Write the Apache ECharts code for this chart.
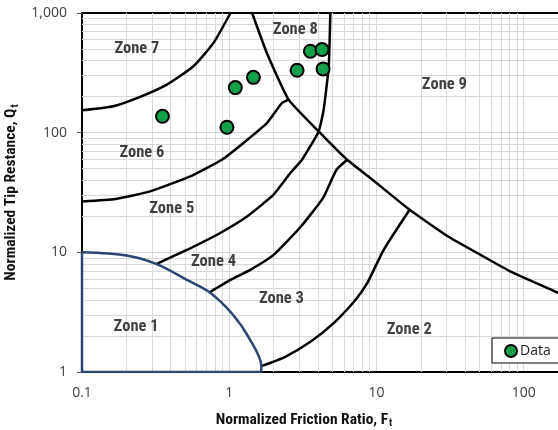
<!DOCTYPE html>
<html><head><meta charset="utf-8">
<script src="https://cdn.jsdelivr.net/npm/echarts@6/dist/echarts.min.js"></script>
<style>html,body{margin:0;padding:0;background:#fff}#c{width:558px;height:430px}</style>
</head><body><div id="c"></div>
<script>
// Tick labels
const xTickLabels = ['0.1', '1', '10', '100'];
const yTickLabels = ['1', '10', '100', '1,000'];
// Minor gridline values
const xGridValues = [0.2,0.3,0.4,0.5,0.6,0.7,0.8,0.9,2,3,4,5,6,7,8,9,20,30,40,50,60,70,80,90];
const yGridValues = [2,3,4,5,6,7,8,9,20,30,40,50,60,70,80,90,200,300,400,500,600,700,800,900];
// Data points
const dataX = [0.352, 0.965, 1.10, 1.46, 2.89, 3.56, 4.27, 4.34];
const dataY = [137, 111, 238, 290, 332, 479, 495, 341];
// Zone labels
const zoneNames = ['Zone 1','Zone 2','Zone 3','Zone 4','Zone 5','Zone 6','Zone 7','Zone 8','Zone 9'];
const zoneX = [0.233, 16.7, 2.26, 0.782, 0.407, 0.255, 0.236, 2.81, 28.9];
const zoneY = [2.39, 2.25, 4.06, 8.38, 23.0, 68.4, 502, 728, 252];
// Zone boundaries
const zone1Edges = [[1.65,1],[0.1,1],[0.1,10]];
const zone1Arc = [[0.1,10],[0.201,9.4],[0.322,7.96],[0.516,5.89],[0.735,4.64],[1.05,3.05],[1.39,1.85],[1.65,1.13],[1.65,1]];
const boundary76 = [[0.1,153.7],[0.163,166],[0.248,199],[0.377,252],[0.571,359],[0.782,563],[1.02,1000]];
const boundary65 = [[0.1,26.6],[0.169,27.9],[0.29,32.3],[0.543,43.1],[0.891,59.4],[1.25,82],[1.80,120],[2.28,177],[2.53,189]];
const boundaryDiagonal = [[1.43,1000],[1.80,464],[2.53,189],[4.05,102.5],[6.32,59.4],[9.09,41.8],[16.8,22.7],[30.9,13.5],[50.9,9.53],[81.6,6.91],[174,4.56],[250,3.73]];
const boundary89and54 = [[4.86,1000],[4.74,359],[4.38,156],[4.05,102.5],[3.12,59.4],[2.6,46],[2.0,30.3],[1.32,19.9],[0.869,14.5],[0.543,10.8],[0.322,8.0]];
const boundary43 = [[0.735,4.64],[1.02,5.89],[1.39,7.14],[2.0,9.53],[3.04,16.2],[4.33,28.4],[5.35,49.0],[6.32,59.4]];
const boundary32 = [[1.65,1.12],[2.40,1.34],[3.56,1.79],[5.12,2.56],[7.19,4.0],[8.65,5.52],[11.2,10.5],[16.8,22.7]];

const chart = echarts.init(document.getElementById('c'), null, {renderer: 'canvas'});
const labelFont = "'Liberation Sans Narrow', 'Roboto Condensed', 'DejaVu Sans Condensed', 'Liberation Sans', sans-serif";
function powLabel(arr, offset) {
  return function (v) {
    const l = Math.log10(v);
    const r = Math.round(l);
    if (Math.abs(l - r) > 1e-6) return '';
    return arr[r + offset] || '';
  };
}
function boundary(name, data, color, width, smooth) {
  return {
    name: name, type: 'line', data: data, symbol: 'none', showSymbol: false, smooth: smooth,
    lineStyle: {color: color, width: width}, z: 3, silent: true, clip: true, animation: false
  };
}
const titleRich = {
  b: {fontFamily: labelFont, fontWeight: 'bold', fontSize: 15.5, color: '#111'},
  s: {fontFamily: labelFont, fontWeight: 'bold', fontSize: 10.5, color: '#111', verticalAlign: 'bottom', padding: [7, 0, 0, 1]}
};
const option = {
  animation: false,
  backgroundColor: '#fff',
  grid: {left: 82, top: 13, right: 0, bottom: 58, containLabel: false, outerBoundsMode: 'none'},
  legend: {
    data: ['Data'], left: 492, top: 338, orient: 'horizontal',
    borderColor: '#000', borderWidth: 1, backgroundColor: '#fff',
    padding: [6, 8, 5, 12], itemWidth: 12, itemHeight: 12, itemGap: 4,
    textStyle: {fontFamily: "'Open Sans', sans-serif", fontSize: 14, color: '#222', padding: [0, 0, 0, -2]}
  },
  xAxis: [{
    type: 'log', min: 0.1, max: 171, position: 'bottom',
    axisLine: {show: true, lineStyle: {color: '#000', width: 2}},
    axisTick: {show: false},
    axisLabel: {formatter: powLabel(xTickLabels, 1), margin: 14, fontSize: 14, color: '#404040', fontFamily: "'Open Sans', sans-serif", showMaxLabel: false},
    splitLine: {show: true, lineStyle: {color: '#d9d9d9', width: 1}},
    name: '{b|Normalized Friction Ratio, F}{s|t}', nameLocation: 'middle', nameGap: 39,
    nameTextStyle: {padding: [0, 32, 0, 0], rich: titleRich}
  }, {
    type: 'log', min: 0.1, max: 171, position: 'top',
    axisLine: {show: true, lineStyle: {color: '#000', width: 2}},
    axisTick: {show: false}, axisLabel: {show: false}, splitLine: {show: false}
  }],
  yAxis: {
    type: 'log', min: 1, max: 1000,
    axisLine: {show: true, lineStyle: {color: '#000', width: 2}},
    axisTick: {show: true, length: 5, lineStyle: {color: '#555'}},
    axisLabel: {formatter: powLabel(yTickLabels, 0), margin: 15, fontSize: 14, color: '#404040', fontFamily: "'Open Sans', sans-serif"},
    splitLine: {show: true, lineStyle: {color: '#d9d9d9', width: 1}},
    name: '{b|Normalized Tip Restance, Q}{s|t}', nameLocation: 'middle', nameGap: 44,
    nameTextStyle: {rich: titleRich}
  },
  series: [
    {
      name: 'grid', type: 'line', data: [[0.1, 1]], symbol: 'none', showSymbol: false, lineStyle: {width: 0}, z: 1, silent: true,
      markLine: {
        silent: true, symbol: ['none', 'none'], label: {show: false}, animation: false, z: 1,
        lineStyle: {color: '#d9d9d9', width: 1, type: 'solid'},
        emphasis: {disabled: true},
        data: xGridValues.map(v => ({xAxis: v})).concat(yGridValues.map(v => ({yAxis: v})))
      }
    },
    boundary('b76', boundary76, '#000', 2.5, 0.2),
    boundary('b65', boundary65, '#000', 2.5, 0.15),
    boundary('diag', boundaryDiagonal, '#000', 2.5, 0.15),
    boundary('b89', boundary89and54, '#000', 2.5, 0.15),
    boundary('b43', boundary43, '#000', 2.5, 0.15),
    boundary('b32', boundary32, '#000', 2.5, 0.2),
    boundary('z1edges', zone1Edges, '#2b4670', 2.5, false),
    boundary('z1arc', zone1Arc, '#2b4670', 2.5, 0.3),
    {
      name: 'zones', type: 'scatter', symbolSize: 0, silent: true, z: 4,
      data: zoneNames.map((n, i) => ({name: n, value: [zoneX[i], zoneY[i]]})),
      label: {show: true, position: 'inside', formatter: p => p.name, fontFamily: labelFont, fontWeight: 'bold', fontSize: 16.5, color: '#111'}
    },
    {
      name: 'Data', type: 'scatter', symbol: 'circle', symbolSize: 13, z: 5,
      data: dataX.map((x, i) => [x, dataY[i]]),
      itemStyle: {color: '#12a04a', borderColor: '#000', borderWidth: 2, opacity: 1}
    }
  ]
};
chart.setOption(option);
</script></body></html>
